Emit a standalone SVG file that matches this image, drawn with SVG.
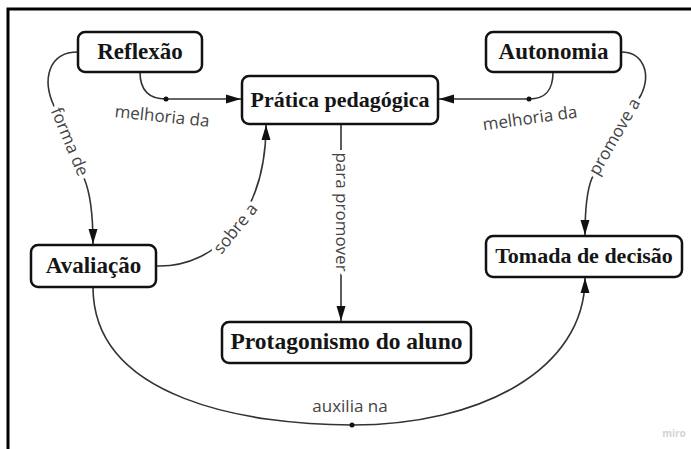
<svg xmlns="http://www.w3.org/2000/svg" width="691" height="449" viewBox="0 0 691 449">
<defs>
<style>
.node rect{fill:#fff;stroke:#111;stroke-width:2.5}
.node text{font-family:"Liberation Serif","Times New Roman",serif;font-weight:bold;fill:#151515;text-anchor:middle}
.conn{fill:none;stroke:#333;stroke-width:1.6}
.lbl{font-family:"Open Sans","Noto Sans",sans-serif;font-size:17px;fill:#444;text-anchor:middle}
.halo{stroke:#fff;stroke-width:8;stroke-linejoin:round;paint-order:stroke}
.dot{fill:#111}
</style>
<marker id="arr" markerUnits="userSpaceOnUse" markerWidth="16" markerHeight="10" refX="15" refY="5" orient="auto">
<path d="M0,0.5 L15,5 L0,9.5 z" fill="#111"/>
</marker>
</defs>
<rect width="691" height="449" fill="#fff"/>
<path d="M8,449 L8,9 L691,9" fill="none" stroke="#000" stroke-width="3"/>

<g id="connectors">
<path class="conn" d="M78,52 C48,52 42,80 54,106 L84,178 C90,192 93,212 93,244" marker-end="url(#arr)"/>
<path class="conn" d="M140,72 C140,90 148,99 166,99 L241,99" marker-end="url(#arr)"/>
<path class="conn" d="M553,72 C553,90 546,99 529,99 L439,99" marker-end="url(#arr)"/>
<path class="conn" d="M621,52 C642,52 652,72 641,95 L592,178 C587,190 585,210 585,235" marker-end="url(#arr)"/>
<path class="conn" d="M156,266 C220,268 266,210 266,125" marker-end="url(#arr)"/>
<path class="conn" d="M341,124 L341,321" marker-end="url(#arr)"/>
<path class="conn" d="M93,287 C93,400 250,425 352,425 C480,425 585,370 585,278" marker-end="url(#arr)"/>
<circle class="dot" cx="166" cy="99" r="2.5"/>
<circle class="dot" cx="529" cy="99" r="2.5"/>
<circle class="dot" cx="352" cy="425" r="2.5"/>
<text class="lbl halo" transform="translate(69,142) rotate(67.4)" y="5">forma de</text>
<text class="lbl" transform="translate(162,117) rotate(6)" y="5">melhoria da</text>
<text class="lbl" transform="translate(530,119) rotate(-8)" y="5">melhoria da</text>
<text class="lbl halo" transform="translate(615,137) rotate(-60)" y="5">promove a</text>
<text class="lbl halo" transform="translate(236,229) rotate(-51)" y="5">sobre a</text>
<text class="lbl halo" transform="translate(341,212) rotate(90)" y="5">para promover</text>
<text class="lbl" x="350" y="412">auxilia na</text>
</g>

<g id="reflexao" class="node">
<rect x="78" y="32" width="124" height="40" rx="7"/>
<text x="140" y="59" font-size="23">Reflexão</text>
</g>
<g id="pratica" class="node">
<rect x="242" y="76" width="196" height="48" rx="7"/>
<text x="340" y="107" font-size="22">Prática pedagógica</text>
</g>
<g id="autonomia" class="node">
<rect x="486" y="32" width="135" height="40" rx="7"/>
<text x="553.5" y="59" font-size="23">Autonomia</text>
</g>
<g id="avaliacao" class="node">
<rect x="31" y="245" width="125" height="42" rx="7"/>
<text x="93.5" y="273" font-size="23">Avaliação</text>
</g>
<g id="protagonismo" class="node">
<rect x="222" y="322" width="249" height="41" rx="7"/>
<text x="346.5" y="349" font-size="23.5">Protagonismo do aluno</text>
</g>
<g id="tomada" class="node">
<rect x="486" y="236" width="196" height="41" rx="7"/>
<text x="584" y="263" font-size="22">Tomada de decisão</text>
</g>

<text x="674" y="437" font-family="'Open Sans','Noto Sans',sans-serif" font-weight="bold" font-size="10" fill="#d4d4d4" text-anchor="middle">miro</text>
</svg>
